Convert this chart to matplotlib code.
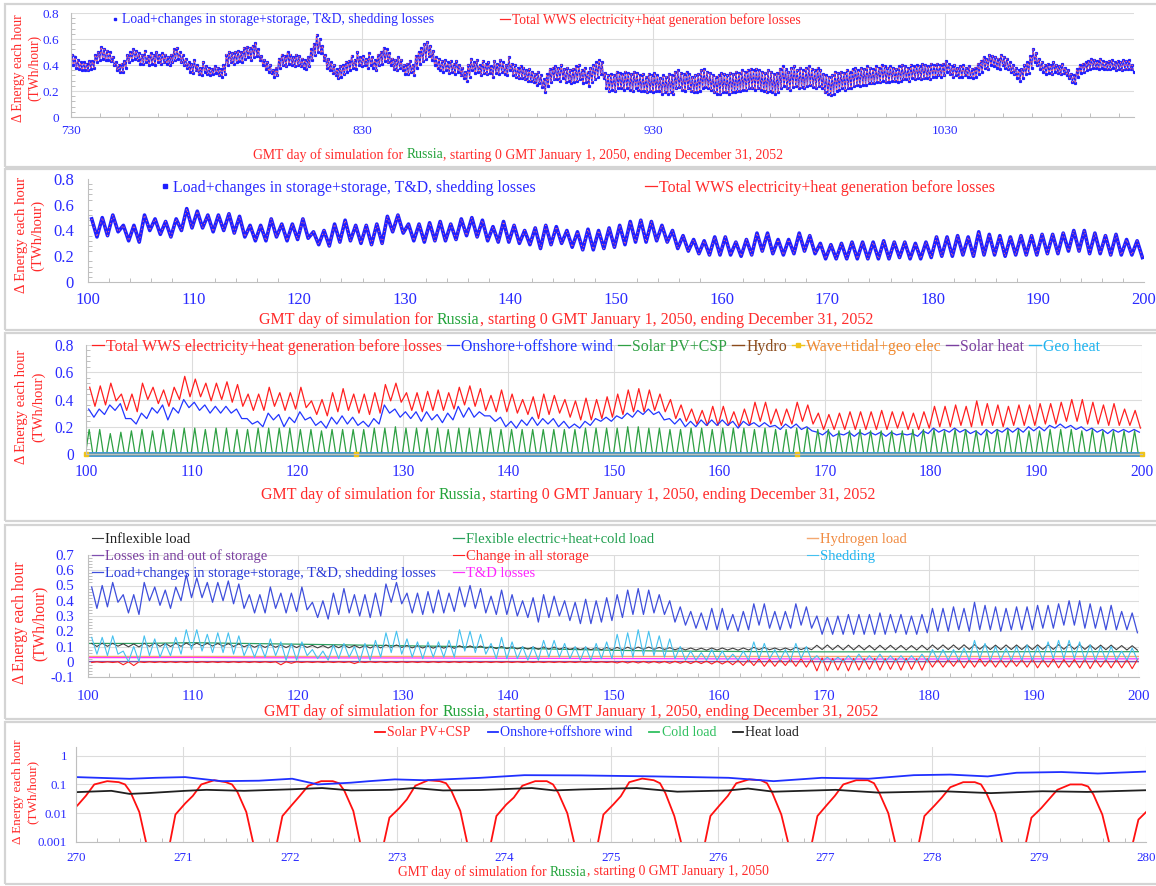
"""Russia WWS grid balance: five stacked panels of hourly energy flows."""

import matplotlib

matplotlib.use("Agg")

import matplotlib.pyplot as plt
import numpy as np
from matplotlib.lines import Line2D
from matplotlib.patches import Rectangle
from matplotlib.ticker import FormatStrFormatter, MultipleLocator

W, H = 1156, 886
plt.rcParams["font.family"] = ["Liberation Serif", "DejaVu Serif"]
plt.rcParams["axes.unicode_minus"] = False

BLUE_TXT = "#2a2aff"
RED_TXT = "#ff2a2a"
GREEN_TXT = "#22a33a"
GRID = "#dcdcdc"
FRAME = "#d4d4d4"
AXIS = "#bfbfbf"

# ---- panel 1: days 730-1094, daily high / low (hundredths of TWh/hour)
P1_FIRST_DAY = 730
P1_TICKS = [730, 830, 930, 1030]
P1_HI = [
    48, 46, 44, 42, 42, 41, 43, 43, 48, 50,
    54, 52, 51, 50, 46, 42, 40, 41, 43, 48,
    50, 52, 51, 49, 48, 51, 47, 49, 48, 50,
    48, 49, 48, 46, 48, 52, 53, 50, 48, 45,
    42, 41, 44, 40, 38, 42, 39, 38, 37, 39,
    38, 37, 40, 48, 50, 49, 50, 51, 50, 53,
    54, 53, 55, 57, 52, 47, 44, 42, 40, 36,
    38, 45, 48, 47, 50, 48, 46, 48, 47, 45,
    44, 46, 52, 56, 63, 60, 55, 48, 45, 42,
    40, 37, 39, 40, 42, 43, 47, 44, 50, 46,
    47, 45, 49, 46, 44, 48, 50, 53, 52, 49,
    45, 44, 46, 44, 40, 41, 43, 40, 47, 50,
    53, 56, 58, 55, 51, 46, 45, 43, 44, 42,
    43, 41, 43, 40, 38, 35, 40, 45, 42, 44,
    40, 43, 41, 42, 39, 43, 41, 44, 42, 40,
    46, 41, 40, 38, 39, 38, 36, 37, 35, 33,
    35, 32, 29, 33, 37, 38, 39, 38, 40, 37,
    38, 36, 37, 39, 40, 36, 38, 35, 38, 40,
    42, 44, 42, 34, 32, 33, 32, 35, 34, 33,
    35, 34, 33, 35, 34, 32, 33, 31, 33, 32,
    34, 32, 30, 32, 31, 33, 32, 35, 36, 34,
    33, 35, 33, 31, 32, 33, 36, 37, 35, 34,
    32, 31, 32, 34, 33, 32, 34, 33, 35, 34,
    36, 35, 36, 37, 36, 37, 36, 35, 34, 36,
    35, 33, 34, 37, 39, 37, 35, 38, 39, 36,
    38, 36, 38, 39, 37, 36, 38, 36, 33, 32,
    31, 32, 35, 34, 35, 34, 36, 35, 37, 38,
    36, 38, 37, 39, 38, 37, 39, 38, 40, 39,
    38, 39, 38, 37, 39, 40, 39, 38, 40, 39,
    40, 39, 41, 40, 39, 41, 40, 41, 40, 41,
    43, 41, 39, 40, 38, 39, 40, 38, 39, 37,
    38, 41, 43, 46, 45, 48, 47, 46, 45, 48,
    46, 45, 42, 40, 38, 36, 37, 40, 42, 47,
    52, 49, 45, 42, 40, 41, 40, 42, 40, 39,
    41, 38, 36, 33, 32, 37, 40, 41, 42, 43,
    45, 44, 43, 45, 43, 42, 43, 44, 42, 43,
    42, 44, 43, 44, 40,
]
P1_LO = [
    40, 38, 37, 36, 36, 36, 37, 38, 42, 44,
    45, 44, 44, 43, 40, 36, 35, 35, 38, 42,
    44, 45, 44, 41, 41, 42, 40, 41, 40, 42,
    41, 42, 41, 40, 42, 44, 45, 42, 40, 38,
    35, 34, 36, 33, 32, 35, 33, 32, 33, 34,
    32, 31, 33, 40, 42, 41, 42, 43, 42, 45,
    46, 44, 46, 47, 44, 40, 37, 35, 34, 31,
    32, 38, 40, 39, 41, 40, 39, 40, 39, 38,
    37, 39, 44, 48, 50, 49, 44, 38, 36, 34,
    32, 30, 31, 33, 35, 36, 38, 37, 40, 39,
    40, 38, 40, 38, 36, 40, 41, 43, 42, 40,
    37, 36, 38, 36, 33, 33, 35, 32, 38, 41,
    43, 45, 47, 44, 40, 38, 36, 35, 36, 34,
    35, 33, 35, 32, 30, 28, 31, 36, 34, 35,
    32, 34, 33, 34, 31, 34, 33, 35, 33, 32,
    36, 32, 31, 30, 30, 29, 28, 28, 27, 25,
    26, 23, 19, 24, 27, 29, 29, 28, 30, 27,
    28, 26, 27, 28, 29, 26, 27, 24, 27, 29,
    31, 33, 30, 22, 20, 21, 20, 22, 22, 21,
    22, 21, 20, 22, 21, 20, 20, 19, 20, 19,
    20, 20, 18, 19, 18, 19, 18, 22, 23, 21,
    20, 22, 20, 19, 19, 20, 22, 23, 22, 21,
    19, 18, 18, 19, 19, 18, 19, 19, 20, 20,
    21, 21, 22, 22, 21, 22, 21, 20, 19, 20,
    19, 18, 19, 22, 24, 22, 21, 23, 24, 22,
    23, 22, 24, 25, 23, 22, 24, 22, 19, 18,
    17, 18, 20, 21, 22, 21, 22, 22, 24, 25,
    24, 25, 25, 26, 26, 26, 27, 27, 28, 27,
    27, 28, 28, 27, 28, 29, 29, 28, 30, 29,
    30, 29, 30, 30, 29, 31, 31, 32, 31, 32,
    35, 33, 31, 32, 31, 31, 32, 31, 31, 30,
    31, 33, 35, 38, 37, 40, 39, 38, 37, 40,
    38, 37, 35, 33, 30, 28, 30, 33, 34, 38,
    42, 40, 37, 35, 33, 34, 33, 35, 34, 33,
    34, 32, 30, 27, 26, 31, 34, 35, 36, 37,
    38, 38, 37, 38, 37, 37, 37, 38, 36, 37,
    36, 37, 37, 37, 35,
]

# ---- panels 2-4: days 100-199, daily high / low (hundredths of TWh/hour)
FIRST_DAY = 100
LOAD_HI = [
    49, 50, 52, 44, 44, 52, 49, 47, 49, 57,
    55, 52, 52, 53, 51, 44, 44, 49, 45, 45,
    49, 39, 40, 45, 48, 44, 44, 45, 51, 52,
    45, 45, 46, 47, 45, 49, 50, 48, 43, 47,
    44, 40, 42, 44, 43, 40, 39, 41, 40, 42,
    44, 47, 48, 47, 44, 40, 36, 33, 32, 35,
    35, 31, 33, 38, 38, 33, 33, 38, 36, 30,
    29, 30, 31, 31, 31, 32, 31, 31, 30, 31,
    35, 35, 36, 35, 39, 37, 36, 35, 36, 36,
    37, 37, 38, 40, 40, 38, 36, 37, 33, 32,
]
LOAD_LO = [
    35, 36, 39, 32, 31, 40, 37, 35, 40, 42,
    42, 39, 40, 38, 35, 32, 32, 35, 32, 33,
    34, 29, 28, 31, 32, 30, 29, 30, 39, 38,
    32, 31, 32, 32, 33, 36, 35, 32, 31, 31,
    30, 29, 26, 29, 30, 27, 25, 25, 26, 27,
    29, 31, 31, 32, 31, 26, 24, 22, 21, 21,
    21, 20, 21, 24, 22, 21, 22, 24, 22, 18,
    18, 18, 18, 18, 18, 18, 19, 18, 18, 19,
    20, 20, 21, 20, 21, 21, 20, 21, 21, 21,
    22, 22, 24, 24, 22, 22, 21, 21, 21, 19,
]
WIND_HI = [
    33, 33, 36, 37, 26, 30, 34, 36, 34, 40,
    38, 36, 35, 35, 33, 26, 24, 30, 29, 27,
    31, 27, 24, 27, 28, 27, 24, 26, 36, 33,
    31, 31, 31, 29, 30, 35, 34, 31, 28, 27,
    24, 25, 27, 26, 26, 24, 22, 24, 26, 27,
    28, 30, 32, 33, 31, 26, 26, 24, 25, 25,
    25, 24, 24, 23, 23, 21, 22, 22, 20, 16,
    17, 15, 16, 16, 16, 16, 16, 15, 15, 17,
    19, 18, 19, 18, 17, 18, 18, 19, 19, 20,
    20, 21, 22, 21, 20, 19, 18, 18, 18, 18,
]
WIND_LO = [
    27, 29, 32, 26, 22, 26, 30, 25, 30, 34,
    32, 30, 30, 30, 26, 22, 20, 25, 20, 23,
    25, 21, 19, 22, 22, 21, 20, 22, 30, 27,
    26, 24, 25, 23, 25, 27, 27, 28, 24, 20,
    19, 21, 21, 22, 20, 19, 19, 21, 24, 24,
    26, 27, 29, 29, 25, 22, 20, 20, 21, 21,
    21, 19, 21, 20, 20, 18, 19, 18, 17, 14,
    13, 14, 13, 14, 14, 13, 14, 14, 13, 15,
    16, 16, 16, 15, 14, 15, 16, 16, 16, 17,
    17, 19, 19, 18, 17, 16, 15, 16, 16, 16,
]
SOLAR_PEAK = [
    18, 18, 15, 16, 17, 18, 17, 18, 18, 19,
    19, 18, 19, 19, 18, 18, 19, 19, 19, 19,
    18, 18, 17, 18, 18, 18, 18, 19, 19, 20,
    19, 19, 19, 19, 18, 19, 19, 19, 19, 18,
    18, 18, 18, 18, 18, 18, 18, 19, 19, 19,
    19, 20, 20, 19, 19, 18, 18, 19, 19, 18,
    19, 19, 19, 18, 19, 18, 18, 19, 19, 18,
    18, 17, 17, 18, 17, 17, 17, 17, 18, 18,
    18, 17, 18, 18, 17, 17, 18, 18, 18, 17,
    17, 18, 18, 18, 17, 18, 17, 17, 17, 17,
]
SHED_HI = [
    16, 16, 17, 7, 10, 17, 15, 12, 16, 21,
    21, 18, 19, 19, 17, 12, 12, 15, 13, 12,
    13, 8, 7, 11, 12, 10, 12, 14, 19, 20,
    15, 13, 13, 13, 14, 21, 20, 18, 12, 16,
    13, 10, 10, 14, 14, 12, 10, 10, 12, 13,
    18, 19, 21, 20, 17, 15, 10, 7, 6, 8,
    7, 5, 7, 13, 12, 8, 8, 12, 10, 4,
    3, 3, 4, 5, 4, 5, 4, 4, 4, 5,
    8, 8, 8, 9, 14, 12, 10, 9, 10, 11,
    10, 13, 14, 14, 13, 11, 10, 10, 7, 9,
]
SHED_LO = [
    5, 4, 5, 0, 0, 4, 3, 4, 5, 8,
    7, 6, 6, 5, 4, 3, 3, 4, 1, 1,
    4, 2, 1, 2, 3, 0, 1, 3, 6, 5,
    3, 2, 3, 3, 3, 7, 6, 5, 2, 2,
    2, 1, 1, 3, 3, 2, 1, 1, 2, 2,
    3, 3, 4, 4, 3, 2, 1, 1, 1, 1,
    1, 1, 1, 2, 2, 1, 1, 2, 1, 0,
    0, 0, 0, 0, 0, 0, 0, 0, 0, 0,
    1, 1, 1, 1, 2, 1, 1, 1, 1, 1,
    1, 2, 2, 2, 1, 1, 1, 1, 1, 1,
]
# thousandths of TWh/hour
INFLEX_HI = [
    120, 122, 121, 118, 117, 121, 122, 120, 121, 123,
    122, 121, 120, 119, 117, 112, 111, 112, 110, 110,
    111, 107, 106, 108, 109, 107, 106, 107, 110, 110,
    106, 105, 104, 104, 103, 105, 104, 103, 100, 100,
    98, 96, 96, 97, 96, 94, 92, 92, 92, 93,
    94, 95, 96, 96, 94, 92, 90, 90, 89, 90,
    90, 89, 90, 94, 93, 90, 90, 94, 93, 108,
    110, 108, 109, 108, 107, 108, 108, 107, 106, 108,
    110, 110, 110, 111, 112, 110, 109, 110, 110, 110,
    111, 111, 112, 113, 112, 110, 109, 109, 106, 105,
]
INFLEX_LO = [
    100, 101, 102, 98, 97, 101, 101, 100, 101, 104,
    104, 103, 102, 100, 98, 95, 94, 95, 93, 93,
    94, 91, 90, 92, 92, 91, 90, 91, 94, 94,
    91, 90, 89, 89, 88, 89, 89, 88, 86, 86,
    84, 83, 82, 83, 82, 81, 80, 79, 79, 80,
    80, 81, 82, 82, 81, 79, 78, 77, 76, 77,
    77, 76, 77, 80, 79, 77, 77, 80, 79, 80,
    79, 78, 78, 78, 77, 78, 78, 77, 77, 78,
    80, 80, 80, 81, 82, 80, 79, 80, 80, 80,
    81, 81, 82, 82, 81, 80, 79, 79, 77, 76,
]
STORE_HI = [
    0, 0, 0, 0, 0, 0, 0, 0, 0, 0,
    0, 0, 0, 0, 0, 0, 0, 0, 0, 0,
    0, 0, 0, 0, 0, 0, 0, 0, 0, 0,
    0, 0, 0, 0, 0, 0, 0, 0, 0, 0,
    0, 0, 0, 0, 0, 0, 0, 0, 0, 0,
    2, 2, 2, 2, 2, 3, 3, 4, 5, 5,
    5, 10, 15, 18, 15, 15, 18, 20, 20, 25,
    22, 20, 22, 20, 22, 20, 20, 22, 20, 20,
    15, 15, 18, 15, 20, 15, 15, 15, 15, 18,
    15, 18, 15, 15, 18, 15, 15, 15, 15, 15,
]
STORE_LO = [
    -5, -5, -5, -20, -25, -5, -5, -5, -5, -5,
    -5, -5, -5, -5, -5, -5, -5, -5, -20, -10,
    -5, -5, -5, -5, -5, -12, -5, -5, -5, -5,
    -5, -5, -5, -5, -5, -5, -5, -5, -5, -5,
    -5, -5, -5, -5, -5, -5, -5, -5, -5, -5,
    -8, -8, -8, -8, -8, -10, -10, -12, -12, -15,
    -15, -20, -25, -25, -30, -30, -25, -30, -35, -60,
    -60, -55, -60, -55, -50, -55, -50, -55, -50, -55,
    -35, -35, -30, -40, -35, -30, -35, -35, -30, -35,
    -40, -35, -40, -35, -40, -45, -35, -40, -40, -45,
]
FLEX_DAYS = [100, 105, 110, 115, 120, 125, 130, 135, 140, 145, 150,
             155, 160, 165, 170, 175, 180, 185, 190, 195, 200]
FLEX_LOAD = [0.120, 0.120, 0.125, 0.120, 0.115, 0.110, 0.105, 0.100, 0.090, 0.082, 0.075,
             0.070, 0.068, 0.066, 0.065, 0.065, 0.065, 0.065, 0.066, 0.066, 0.066]
TD_LOSS = [0.027, 0.027, 0.028, 0.026, 0.026, 0.025, 0.025, 0.024, 0.023, 0.022, 0.021,
           0.020, 0.019, 0.019, 0.018, 0.018, 0.018, 0.019, 0.019, 0.019, 0.019]
SPAN_DAYS = [100, 200]
HYDROGEN_LOAD = [0.040, 0.040]
STORAGE_LOSS = [0.004, 0.004]
HYDRO = [0.006, 0.006]
SOLAR_HEAT = [0.002, 0.002]
GEO_HEAT = [0.0, 0.0]
WAVE_DAYS = [100, 125.6, 167.3, 200]
WAVE = [0.0, 0.0, 0.0, 0.0]

# ---- panel 5: days 270-280, log scale
SOLAR5_HOURS = [-4.0, -2.9, -1.7, 0.5, 2.2, 4.1, 7.0, 9.6, 11.0, 12.2, 14.2, 15.7, 16.6]
SOLAR5 = {
    270: [1e-5, 0.001, 0.009, 0.020, 0.040, 0.10, 0.13, 0.12, 0.10, 0.055, 0.011, 0.001, 1e-5],
    271: [1e-5, 0.001, 0.009, 0.022, 0.040, 0.10, 0.14, 0.12, 0.10, 0.055, 0.011, 0.001, 1e-5],
    272: [1e-5, 0.001, 0.008, 0.020, 0.040, 0.09, 0.13, 0.13, 0.11, 0.060, 0.012, 0.001, 1e-5],
    273: [1e-5, 0.001, 0.007, 0.015, 0.030, 0.09, 0.14, 0.13, 0.11, 0.060, 0.012, 0.001, 1e-5],
    274: [1e-5, 0.001, 0.008, 0.020, 0.035, 0.09, 0.13, 0.13, 0.10, 0.050, 0.010, 0.001, 1e-5],
    275: [1e-5, 0.001, 0.009, 0.020, 0.039, 0.12, 0.16, 0.14, 0.11, 0.050, 0.008, 0.001, 1e-5],
    276: [1e-5, 0.001, 0.008, 0.020, 0.040, 0.11, 0.15, 0.14, 0.11, 0.050, 0.009, 0.001, 1e-5],
    277: [1e-5, 0.001, 0.008, 0.020, 0.040, 0.10, 0.14, 0.14, 0.11, 0.050, 0.010, 0.001, 1e-5],
    278: [1e-5, 0.001, 0.008, 0.018, 0.035, 0.08, 0.12, 0.12, 0.10, 0.050, 0.010, 0.001, 1e-5],
    279: [1e-5, 0.001, 0.007, 0.015, 0.030, 0.065, 0.10, 0.10, 0.085, 0.045, 0.009, 0.001, 1e-5],
    280: [1e-5, 0.001, 0.006, 0.013, 0.030, 0.065, 0.10, 0.10, 0.085, 0.045, 0.009, 0.001, 1e-5],
}
WIND5_T = [270.0, 270.5, 270.74, 271.02, 271.36, 271.71, 272.02, 272.26, 272.57, 272.74,
           272.98, 273.26, 273.78, 274.19, 274.72, 275.41, 276.1, 276.52, 276.97, 277.41,
           277.83, 278.17, 278.52, 278.79, 279.21, 279.55, 280.0]
WIND5 = [0.18, 0.157, 0.17, 0.18, 0.13, 0.135, 0.158, 0.10, 0.115, 0.13,
         0.15, 0.14, 0.17, 0.21, 0.206, 0.19, 0.17, 0.13, 0.17, 0.158,
         0.21, 0.22, 0.19, 0.255, 0.27, 0.24, 0.28]
HEAT5_T = [270.0, 270.33, 270.5, 270.67, 271.02, 271.22, 271.57, 272.02, 272.3, 272.57,
           272.95, 273.16, 273.43, 273.78, 274.26, 274.47, 274.72, 275.24, 275.62, 276.1,
           276.28, 276.52, 277.1, 277.5, 278.1, 278.55, 279.03, 279.45, 280.0]
HEAT5 = [0.054, 0.06, 0.047, 0.05, 0.06, 0.065, 0.06, 0.068, 0.075, 0.062,
         0.065, 0.075, 0.062, 0.064, 0.075, 0.062, 0.067, 0.075, 0.056, 0.062,
         0.072, 0.056, 0.065, 0.052, 0.058, 0.05, 0.058, 0.055, 0.063]
COLD5_T = [270.0, 280.0]
COLD5 = [0.0002, 0.0002]

LOAD_LABEL = "Load+changes in storage+storage, T&D, shedding losses"
TOTAL_LABEL = "Total WWS electricity+heat generation before losses"
YLABEL = "\u0394 Energy each hour\n(TWh/hour)"
XLABEL_3Y = [("GMT day of simulation for ", RED_TXT), ("Russia", GREEN_TXT),
             (", starting 0 GMT January 1, 2050, ending December 31, 2052", RED_TXT)]
XLABEL_1Y = [("GMT day of simulation for ", RED_TXT), ("Russia", GREEN_TXT),
             (", starting 0 GMT January 1, 2050", RED_TXT)]


def zigzag(first_day, first, second, scale, first_at=0.35, second_at=0.85):
    """Alternate two daily values at fixed hours of the day."""
    days = first_day + np.arange(len(first))
    t = np.column_stack([days + first_at, days + second_at]).ravel()
    v = np.column_stack([first, second]).ravel() / scale
    return t, v


def px_axes(fig, left, right, top, bottom):
    return fig.add_axes([left / W, 1 - bottom / H, (right - left) / W, (bottom - top) / H])


def style_axes(ax, size, xpad, ypad, xgrid=True, ygrid=True):
    ax.spines[["top", "right"]].set_visible(False)
    for side in ("left", "bottom"):
        ax.spines[side].set_color(AXIS)
        ax.spines[side].set_linewidth(0.8)
    ax.tick_params(which="major", length=0, labelsize=size, labelcolor=BLUE_TXT)
    ax.tick_params(axis="x", which="major", pad=xpad)
    ax.tick_params(axis="y", which="major", pad=ypad)
    ax.tick_params(which="minor", length=3, direction="in", color=AXIS, width=0.7)
    if xgrid:
        ax.grid(True, axis="x", which="major", color=GRID, lw=0.8)
    if ygrid:
        ax.grid(True, axis="y", which="major", color=GRID, lw=0.8)
    ax.set_axisbelow(True)


def ylabel(fig, x, y, size, spacing):
    fig.text(x / W, 1 - y / H, YLABEL, rotation=90, ha="center", va="center",
             multialignment="center", color=RED_TXT, fontsize=size, linespacing=spacing)


def xlabel(fig, x, y, parts, size):
    renderer = fig.canvas.get_renderer()
    for text, color in parts:
        fig.text(x / W, 1 - y / H, text, color=color, fontsize=size, ha="left", va="center")
        probe = fig.text(0, 0, text + "|", fontsize=size)
        bar = fig.text(0, 0, "|", fontsize=size)
        x += probe.get_window_extent(renderer).width - bar.get_window_extent(renderer).width
        probe.remove()
        bar.remove()


def legend_at(fig, handles, labels, colors, x, y, size, ncol=1, colspacing=0.3,
              handlelength=0.75):
    leg = fig.legend(handles, labels, loc="center left", bbox_to_anchor=(x / W, 1 - y / H),
                     ncol=ncol, frameon=False, fontsize=size, borderpad=0, borderaxespad=0,
                     handlelength=handlelength, handletextpad=0.15, columnspacing=colspacing,
                     numpoints=1)
    for txt, color in zip(leg.get_texts(), colors):
        txt.set_color(color)
    return leg


def main() -> None:
    fig = plt.figure(figsize=(W / 100, H / 100), dpi=100)

    for top, bottom in [(4, 167), (169, 330), (333, 521), (525, 719), (722, 884)]:
        fig.patches.append(Rectangle((5 / W, 1 - bottom / H), 1.2, (bottom - top) / H,
                                     transform=fig.transFigure, fill=False,
                                     edgecolor=FRAME, lw=1.6))

    load_t, load_v = zigzag(FIRST_DAY, LOAD_HI, LOAD_LO, 100)

    # ---- panel 1
    ax1 = px_axes(fig, 71, 1134, 13, 117)
    p1_t, p1_v = zigzag(P1_FIRST_DAY, P1_HI, P1_LO, 100)
    ax1.plot(p1_t, p1_v, color="#1f1fff", lw=0.9, marker="s", ms=1.3)
    ax1.plot(p1_t, p1_v, color="#ff6b6b", lw=0.7, dashes=(1.5, 2.5))
    ax1.set_xlim(730, 1095)
    ax1.set_ylim(0, 0.8)
    ax1.set_xticks(P1_TICKS)
    ax1.xaxis.set_minor_locator(MultipleLocator(10))
    ax1.yaxis.set_major_locator(MultipleLocator(0.2))
    ax1.yaxis.set_minor_locator(MultipleLocator(0.04))
    ax1.yaxis.set_major_formatter(FormatStrFormatter("%g"))
    style_axes(ax1, 9.5, 6, 8.6)
    ylabel(fig, 27, 68, 9.8, 1.25)
    xlabel(fig, 253, 155, XLABEL_3Y, 9.9)
    dot = Line2D([], [], ls="none", marker="s", ms=1.6, color="#1f1fff")
    red = Line2D([], [], color="#ff2a2a", lw=0.9)
    legend_at(fig, [dot], [LOAD_LABEL], [BLUE_TXT], 110, 20, 9.8)
    legend_at(fig, [red], [TOTAL_LABEL], [RED_TXT], 500, 20, 9.8)

    # ---- panel 2
    ax2 = px_axes(fig, 88, 1144, 179, 282)
    ax2.plot(load_t, load_v, color="#1f1fff", lw=2.6, solid_joinstyle="round")
    ax2.plot(load_t, load_v, color="#ff7070", lw=0.7, dashes=(1.2, 3.0))
    ax2.set_xlim(100, 200)
    ax2.set_ylim(0, 0.8)
    ax2.xaxis.set_major_locator(MultipleLocator(10))
    ax2.xaxis.set_minor_locator(MultipleLocator(2))
    ax2.yaxis.set_major_locator(MultipleLocator(0.2))
    ax2.yaxis.set_minor_locator(MultipleLocator(0.04))
    ax2.yaxis.set_major_formatter(FormatStrFormatter("%g"))
    style_axes(ax2, 12, 7.2, 10, xgrid=False, ygrid=False)
    ylabel(fig, 29.5, 235, 10.6, 1.32)
    xlabel(fig, 259, 320, XLABEL_3Y, 11.5)
    dot2 = Line2D([], [], ls="none", marker="s", ms=2.2, color="#1f1fff")
    legend_at(fig, [dot2], [LOAD_LABEL], [BLUE_TXT], 159, 188, 11.4)
    legend_at(fig, [red], [TOTAL_LABEL], [RED_TXT], 645, 188, 11.4)

    # ---- panel 3
    ax3 = px_axes(fig, 86, 1142, 345, 454)
    days = FIRST_DAY + np.arange(len(SOLAR_PEAK))
    zeros = np.zeros(len(days))
    solar_t = np.column_stack([days - 0.05, days + 0.3, days + 0.65]).ravel()
    solar_v = np.column_stack([zeros, np.array(SOLAR_PEAK) / 100, zeros]).ravel()
    wind_t, wind_v = zigzag(FIRST_DAY, WIND_HI, WIND_LO, 100, 0.25, 0.75)
    l_total, = ax3.plot(load_t, load_v, color="#ff2020", lw=0.9)
    l_wind, = ax3.plot(wind_t, wind_v, color="#2236ff", lw=0.9)
    l_solar, = ax3.plot(solar_t, solar_v, color="#2ea043", lw=0.9)
    l_hydro, = ax3.plot(SPAN_DAYS, HYDRO, color="#8b4a1a", lw=1.0, clip_on=False)
    l_sheat, = ax3.plot(SPAN_DAYS, SOLAR_HEAT, color="#7a3fa0", lw=1.0, clip_on=False)
    l_geo, = ax3.plot(SPAN_DAYS, GEO_HEAT, color="#3d95d5", lw=3.5, clip_on=False,
                      solid_capstyle="butt")
    l_wave, = ax3.plot(WAVE_DAYS, WAVE, color="#f0c419", lw=1.0, marker="s", ms=3,
                       clip_on=False)
    ax3.set_xlim(100, 200)
    ax3.set_ylim(0, 0.8)
    ax3.xaxis.set_major_locator(MultipleLocator(10))
    ax3.xaxis.set_minor_locator(MultipleLocator(2))
    ax3.yaxis.set_major_locator(MultipleLocator(0.2))
    ax3.yaxis.set_minor_locator(MultipleLocator(0.04))
    ax3.yaxis.set_major_formatter(FormatStrFormatter("%g"))
    style_axes(ax3, 11.2, 7.3, 8.6)
    ylabel(fig, 30, 407, 10.5, 1.32)
    xlabel(fig, 261, 495, XLABEL_3Y, 11.5)
    geo_handle = Line2D([], [], color="#1fb4f0", lw=1.0)
    legend_at(fig,
              [l_total, l_wind, l_solar, l_hydro, l_wave, l_sheat, geo_handle],
              [TOTAL_LABEL, "Onshore+offshore wind", "Solar PV+CSP", "Hydro",
               "Wave+tidal+geo elec", "Solar heat", "Geo heat"],
              [RED_TXT, "#2236ff", "#2ea043", "#8b4a1a", "#f08a30", "#7a3fa0", "#1fb4f0"],
              92, 347, 11.45, ncol=7, colspacing=0.3)

    # ---- panel 4
    ax4 = px_axes(fig, 88, 1139, 555, 677)
    shed_t, shed_v = zigzag(FIRST_DAY, SHED_HI, SHED_LO, 100)
    inflex_t, inflex_v = zigzag(FIRST_DAY, INFLEX_HI, INFLEX_LO, 1000)
    store_t, store_v = zigzag(FIRST_DAY, STORE_LO, STORE_HI, 1000)
    l_h2, = ax4.plot(SPAN_DAYS, HYDROGEN_LOAD, color="#f4a870", lw=1.0)
    l_td, = ax4.plot(FLEX_DAYS, TD_LOSS, color="#ff33ff", lw=0.9)
    l_sloss, = ax4.plot(SPAN_DAYS, STORAGE_LOSS, color="#8050b0", lw=0.9)
    l_store, = ax4.plot(store_t, store_v, color="#ff2020", lw=0.8)
    l_flex, = ax4.plot(FLEX_DAYS, FLEX_LOAD, color="#2ca060", lw=0.9)
    l_inflex, = ax4.plot(inflex_t, inflex_v, color="#404040", lw=0.8)
    l_shed, = ax4.plot(shed_t, shed_v, color="#45c1ef", lw=0.8)
    l_load, = ax4.plot(load_t, load_v, color="#3f4fdc", lw=0.9)
    ax4.set_xlim(100, 200)
    ax4.set_ylim(-0.1, 0.7)
    ax4.xaxis.set_major_locator(MultipleLocator(10))
    ax4.xaxis.set_minor_locator(MultipleLocator(2))
    ax4.yaxis.set_major_locator(MultipleLocator(0.1))
    ax4.yaxis.set_minor_locator(MultipleLocator(0.02))
    ax4.yaxis.set_major_formatter(FormatStrFormatter("%g"))
    style_axes(ax4, 10.8, 9.7, 10)
    ylabel(fig, 30, 623, 11.2, 1.32)
    xlabel(fig, 264.5, 712, XLABEL_3Y, 11.5)
    entries = [
        (l_inflex, "Inflexible load", "#202020", 92, 539),
        (l_sloss, "Losses in and out of storage", "#7a3fa0", 92, 556),
        (l_load, LOAD_LABEL, "#2a3ad8", 92, 573),
        (l_flex, "Flexible electric+heat+cold load", "#22a050", 453, 539),
        (l_store, "Change in all storage", RED_TXT, 453, 556),
        (l_td, "T&D losses", "#ff22ff", 453, 573),
        (l_h2, "Hydrogen load", "#f08a40", 807, 539),
        (l_shed, "Shedding", "#1fb4f0", 807, 556),
    ]
    for handle, label, color, x, y in entries:
        legend_at(fig, [handle], [label], [color], x, y, 10.5)

    # ---- panel 5
    ax5 = px_axes(fig, 76, 1146, 747, 842)
    solar5_t = np.concatenate([day + np.array(SOLAR5_HOURS) / 24 for day in SOLAR5])
    solar5_v = np.concatenate([SOLAR5[day] for day in SOLAR5])
    l_s5, = ax5.plot(solar5_t, solar5_v, color="#ff1010", lw=1.3)
    l_w5, = ax5.plot(WIND5_T, WIND5, color="#2030ff", lw=1.3)
    l_c5, = ax5.plot(COLD5_T, COLD5, color="#30c060", lw=1.3)
    l_h5, = ax5.plot(HEAT5_T, HEAT5, color="#202020", lw=1.3)
    ax5.set_yscale("log")
    ax5.set_xlim(270, 280)
    ax5.set_ylim(0.001, 2)
    ax5.set_yticks([0.001, 0.01, 0.1, 1], ["0.001", "0.01", "0.1", "1"])
    ax5.yaxis.set_minor_locator(plt.NullLocator())
    ax5.xaxis.set_major_locator(MultipleLocator(1))
    ax5.xaxis.set_minor_locator(MultipleLocator(0.2))
    style_axes(ax5, 9.4, 7.5, 6.5)
    ylabel(fig, 25, 792, 9.5, 1.3)
    xlabel(fig, 398, 872, XLABEL_1Y, 9.85)
    legend_at(fig, [l_s5, l_w5, l_c5, l_h5],
              ["Solar PV+CSP", "Onshore+offshore wind", "Cold load", "Heat load"],
              [RED_TXT, "#2030ff", "#30c060", "#202020"],
              375, 733, 10, ncol=4, colspacing=1.2)

    fig.savefig("out.png", dpi=100)
    plt.close(fig)


if __name__ == "__main__":
    main()
